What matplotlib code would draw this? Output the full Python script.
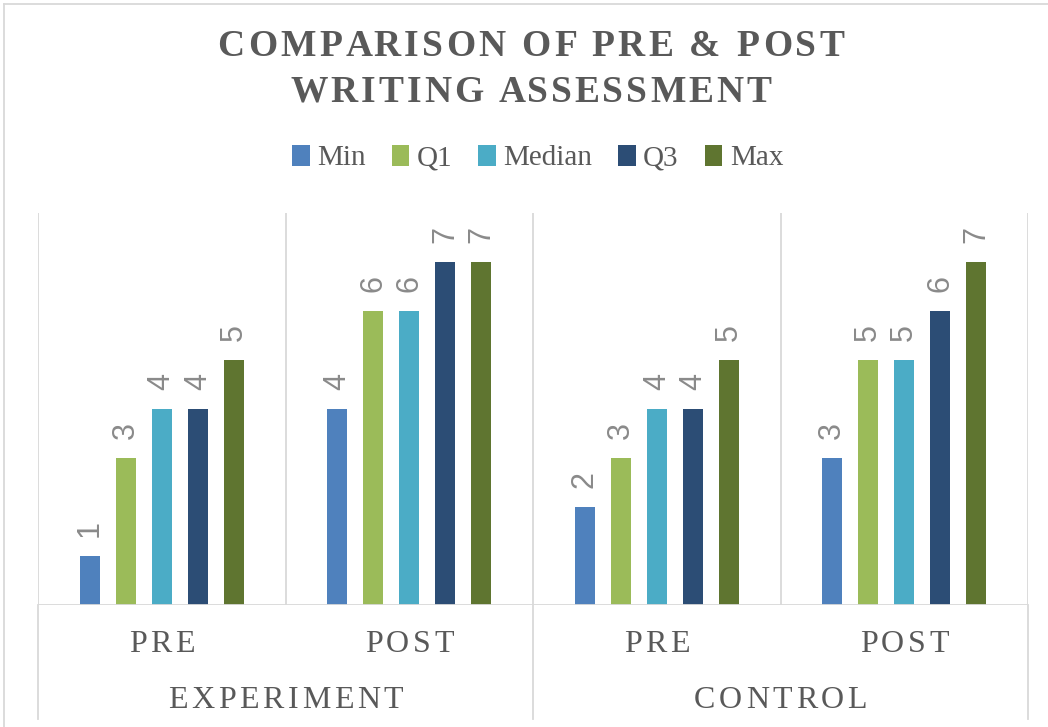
import numpy as np
import matplotlib
matplotlib.use("Agg")
import matplotlib.pyplot as plt
from matplotlib.lines import Line2D

# Data
groups = ["EXPERIMENT", "CONTROL"]
phases = ["PRE", "POST", "PRE", "POST"]
series = ["Min", "Q1", "Median", "Q3", "Max"]
min_vals = [1, 4, 2, 3]
q1_vals = [3, 6, 3, 5]
median_vals = [4, 6, 4, 5]
q3_vals = [4, 7, 4, 6]
max_vals = [5, 7, 5, 7]
colors = ["#4F81BD", "#9BBB59", "#4BACC6", "#2C4D75", "#5F7530"]

values = [min_vals, q1_vals, median_vals, q3_vals, max_vals]
text_color = "#595959"
grid_color = "#d9d9d9"
serif = "Liberation Serif"

W, H = 1048, 727
fig = plt.figure(figsize=(W / 100, H / 100), dpi=100)
renderer = fig.canvas.get_renderer()


def text_width(s, **kw):
    t = fig.text(0, 0, s, **kw)
    w = t.get_window_extent(renderer).width
    t.remove()
    return w


def tracked_text(xc, y, s, track, **kw):
    # draw text centred on xc (pixels) with extra letter spacing (pixels)
    bar_w = text_width("I", **kw)
    starts = [0.0] + [text_width(s[:i] + "I", **kw) - bar_w for i in range(1, len(s))]
    total = text_width(s, **kw) + track * (len(s) - 1)
    x0 = xc - total / 2
    for i, ch in enumerate(s):
        if ch != " ":
            fig.text((x0 + starts[i] + track * i) / W, y, ch, ha="left", va="center", **kw)


ax = fig.add_axes([38 / W, 1 - 605 / H, 990 / W, 392 / H])

x = np.arange(len(phases)) + 0.5
step = 0.1457
width = 0.081
for i, (name, vals) in enumerate(zip(series, values)):
    bars = ax.bar(x + (i - 2) * step, vals, width, color=colors[i], label=name, zorder=3)
    ax.bar_label(bars, labels=[str(v) for v in vals], padding=14, rotation=90,
                 color="#8a8a8a", fontsize=22, family="Liberation Sans")

ax.set_xlim(0, 4)
ax.set_ylim(0, 8)
for s in ax.spines.values():
    s.set_visible(False)
ax.set_xticks([])
ax.set_yticks([])

# vertical gridlines and baseline
for gx in range(5):
    ax.axvline(gx, color=grid_color, lw=1.3, zorder=1)
ax.axhline(0, color=grid_color, lw=1.3, zorder=4)

# multi-level category axis
trans = ax.get_xaxis_transform()
for gx in [0, 2, 4]:
    ax.plot([gx, gx], [0, -0.29], transform=trans, color=grid_color, lw=1.3, clip_on=False)
cat_kw = dict(fontsize=23, family=serif, color=text_color)
for xi, ph in zip(x, phases):
    tracked_text(38 + xi * 247.5, 1 - 645 / H, ph, 3.6, **cat_kw)
for gi, g in enumerate(groups):
    tracked_text(38 + (1 + 2 * gi) * 247.5, 1 - 700 / H, g, 3.6, **cat_kw)

# outer chart frame (cropped)
fig.add_artist(Line2D([4 / W, 4 / W], [0, 1 - 4 / H], color=grid_color, lw=1.3))
fig.add_artist(Line2D([4 / W, 1], [1 - 4 / H, 1 - 4 / H], color=grid_color, lw=1.3))

# title
title_kw = dict(fontsize=27, fontweight="bold", family=serif, color=text_color)
tracked_text(531, 1 - 47 / H, "COMPARISON OF PRE & POST", 3.3, **title_kw)
tracked_text(531, 1 - 92 / H, "WRITING ASSESSMENT", 3.0, **title_kw)

# legend
fig.legend(loc="center", bbox_to_anchor=(0.513, 1 - 158 / H), ncol=5, frameon=False,
           prop={"family": serif, "size": 21}, labelcolor=text_color,
           handlelength=0.6, handleheight=0.75, handletextpad=0.25, columnspacing=0.9)

fig.savefig("out.png", dpi=100)
